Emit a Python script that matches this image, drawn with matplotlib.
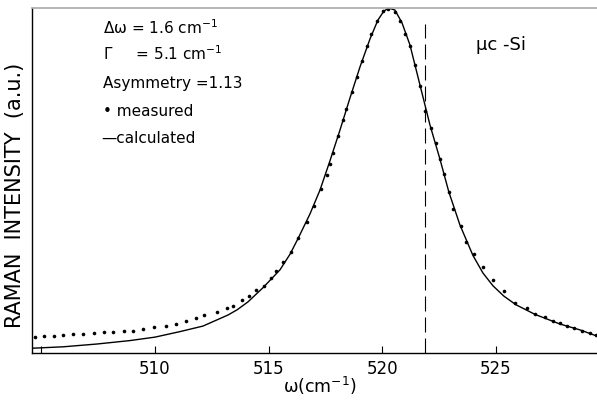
import matplotlib
matplotlib.use("Agg")
import matplotlib.pyplot as plt

# measured Raman points (wavenumber, intensity a.u.)
meas_w = [504.72, 505.12, 505.56, 505.97, 506.38, 506.82, 507.33, 507.76, 508.17, 508.64,
          509.02, 509.49, 509.97, 510.48, 510.91, 511.36, 511.79, 512.17, 512.71, 513.15,
          513.44, 513.81, 514.12, 514.44, 514.80, 515.09, 515.32, 515.64, 515.97, 516.30,
          516.67, 517.01, 517.30, 517.55, 517.70, 517.83, 518.05, 518.27, 518.40, 518.67,
          518.89, 519.11, 519.33, 519.50, 519.77, 520.03, 520.25, 520.56, 520.78, 521.00,
          521.22, 521.44, 521.66, 521.88, 522.14, 522.36, 522.54, 522.71, 522.93, 523.11,
          523.46, 523.68, 524.03, 524.43, 524.87, 525.35, 525.84, 526.37, 526.72, 527.16,
          527.51, 527.82, 528.13, 528.43, 528.79, 529.14, 529.40]
meas_i = [0.047, 0.048, 0.050, 0.052, 0.054, 0.056, 0.057, 0.060, 0.062, 0.064,
          0.065, 0.070, 0.074, 0.079, 0.084, 0.092, 0.101, 0.110, 0.118, 0.130,
          0.137, 0.153, 0.166, 0.183, 0.195, 0.217, 0.238, 0.263, 0.292, 0.332,
          0.381, 0.427, 0.474, 0.516, 0.548, 0.580, 0.629, 0.675, 0.707, 0.757,
          0.800, 0.846, 0.890, 0.925, 0.962, 0.991, 0.997, 0.988, 0.962, 0.925,
          0.890, 0.835, 0.774, 0.701, 0.652, 0.609, 0.562, 0.519, 0.467, 0.417,
          0.368, 0.322, 0.287, 0.249, 0.212, 0.180, 0.145, 0.130, 0.113, 0.104,
          0.093, 0.087, 0.078, 0.072, 0.064, 0.058, 0.052]

# calculated curve
calc_w = [504.65, 505.97, 507.44, 508.90, 510.00, 511.10, 512.11, 513.21, 513.61, 514.09,
          514.75, 515.50, 515.94, 516.29, 516.82, 517.26, 517.70, 518.14, 518.58, 519.02,
          519.46, 519.81, 520.07, 520.29, 520.56, 520.87, 521.22, 521.66, 522.10, 522.54,
          522.93, 523.42, 523.99, 524.43, 524.87, 525.35, 525.88, 526.72, 527.82, 528.70,
          529.45]
calc_i = [0.014, 0.018, 0.026, 0.036, 0.046, 0.062, 0.078, 0.110, 0.125, 0.148,
          0.189, 0.241, 0.286, 0.331, 0.403, 0.472, 0.557, 0.646, 0.739, 0.829,
          0.910, 0.965, 0.991, 1.000, 0.994, 0.957, 0.893, 0.777, 0.661, 0.562,
          0.467, 0.371, 0.283, 0.232, 0.195, 0.165, 0.140, 0.112, 0.084, 0.067,
          0.049]

tick_pos = [505, 510, 515, 520, 525]
tick_lab = ["", "510", "515", "520", "525"]
peak_mark = 521.9

fig = plt.figure(figsize=(5.97, 4.02), dpi=100)
ax = fig.add_axes([0.0536, 0.1194, 0.9464, 0.8582])

ax.plot(calc_w, calc_i, color="black", lw=1.0)
ax.plot(meas_w, meas_i, "o", color="black", ms=2.6, mew=0)
ax.plot([peak_mark, peak_mark], [0, 0.954], color="black", lw=0.8, dashes=(13.5, 5.4))

ax.set_xlim(504.59, 529.45)
ax.set_ylim(0, 1.0)
ax.set_xticks(tick_pos)
ax.set_xticklabels(tick_lab, fontsize=12)
ax.tick_params(axis="x", direction="in", length=5, width=0.8, pad=4)
ax.set_yticks([])
ax.spines["right"].set_visible(False)
ax.spines["top"].set_color("#aaaaaa")
ax.spines["top"].set_linewidth(1.2)
ax.spines["left"].set_linewidth(1.0)
ax.spines["bottom"].set_linewidth(1.0)

ax.set_xlabel("ω(cm$^{-1}$)", fontsize=12.5)
ax.xaxis.set_label_coords(0.51, -0.062)
ax.set_ylabel("RAMAN  INTENSITY  (a.u.)", fontsize=15)
ax.yaxis.set_label_coords(-0.012, 0.46)

tx = 0.126
ax.text(tx, 0.945, "Δω = 1.6 cm$^{-1}$", transform=ax.transAxes, fontsize=11, va="center")
ax.text(tx, 0.872, "Γ     = 5.1 cm$^{-1}$", transform=ax.transAxes, fontsize=11, va="center")
ax.text(tx, 0.785, "Asymmetry =1.13", transform=ax.transAxes, fontsize=11, va="center")
ax.text(tx, 0.704, "• measured", transform=ax.transAxes, fontsize=11, va="center")
ax.text(tx - 0.003, 0.625, "—calculated", transform=ax.transAxes, fontsize=11, va="center")
ax.text(0.785, 0.895, "µc -Si", transform=ax.transAxes, fontsize=13, va="center")

plt.savefig("out.png", dpi=100)
